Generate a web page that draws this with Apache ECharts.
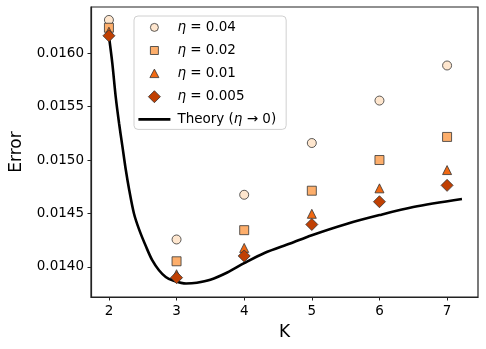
<!DOCTYPE html>
<html>
<head>
<meta charset="utf-8">
<script src="https://cdn.jsdelivr.net/npm/echarts@6/dist/echarts.min.js"></script>
<style>
  html, body { margin: 0; padding: 0; background: #fff; }
  #chart { width: 486px; height: 349px; }
</style>
</head>
<body>
<div id="chart"></div>
<script>
// K values (x axis)
const ks = [2, 3, 4, 5, 6, 7];
// measured error for each learning rate
const eta004 = [0.01631, 0.014257, 0.014675, 0.015159, 0.015556, 0.015884];
const eta002 = [0.016237, 0.014053, 0.014344, 0.014713, 0.0150, 0.015216];
const eta001 = [0.016200, 0.013932, 0.014178, 0.014497, 0.014735, 0.014906];
const eta0005 = [0.016162, 0.013900, 0.014103, 0.014397, 0.014610, 0.014763];
// theory curve (eta -> 0)
const theoryK = [2.0, 2.05, 2.1, 2.15, 2.2, 2.25, 2.3, 2.37, 2.45, 2.55, 2.64, 2.74, 2.84, 2.94, 3.14, 3.3, 3.5, 3.75, 4.0, 4.3, 4.68, 5.0, 5.5, 6.0, 6.5, 7.22];
const theoryErr = [0.01616, 0.015906, 0.015593, 0.015344, 0.015125, 0.014906, 0.014719, 0.0145, 0.014344, 0.014188, 0.014063, 0.013969, 0.013906, 0.013875, 0.013845, 0.013852, 0.01388, 0.013948, 0.014035, 0.01413, 0.014219, 0.014297, 0.0144, 0.014485, 0.01456, 0.014635];
// tick labels
const xTicks = [2, 3, 4, 5, 6, 7];
const yTicks = [0.0140, 0.0145, 0.0150, 0.0155, 0.0160];

const font = "DejaVu Sans";
const edge = "#333";

// legend icons: 32x14 box (the two leading moves fix the box), shape centred
const box = "M0 0 M32 14 ";
const icons = {
  circle: "path://" + box + "M20 7 A4 4 0 1 1 12 7 A4 4 0 1 1 20 7 Z",
  square: "path://" + box + "M12 3 L20 3 L20 11 L12 11 Z",
  triangle: "path://" + box + "M16 2.5 L20.5 11 L11.5 11 Z",
  diamond: "path://" + box + "M16 1 L22 7 L16 13 L10 7 Z",
  line: "path://" + box + "M0 5.7 L32 5.7 L32 8.3 L0 8.3 Z",
};

const chart = echarts.init(document.getElementById("chart"), null, { renderer: "canvas" });

const pairs = (ys) => ks.map((k, i) => [k, ys[i]]);

const scatter = (name, data, symbol, size, color) => ({
  name,
  type: "scatter",
  data: pairs(data),
  symbol,
  symbolSize: size,
  itemStyle: { color, borderColor: edge, borderWidth: 0.8, opacity: 1 },
  z: 3,
});

const etaLabel = (v) => "{i|η} = " + v;
const legendMark = { borderColor: edge, borderWidth: 0.8 };

const option = {
  animation: false,
  textStyle: { fontFamily: font },
  grid: {
    left: 90, right: 8, top: 7, bottom: 52,
    show: true, borderColor: "#222", borderWidth: 1.2, backgroundColor: "#fff",
  },
  legend: {
    orient: "vertical",
    left: 134, top: 16,
    itemWidth: 32, itemHeight: 14, itemGap: 8.3,
    padding: [4, 10, 3, 4],
    backgroundColor: "rgba(255,255,255,0.8)",
    borderColor: "#d0d0d0", borderWidth: 1, borderRadius: 4,
    data: [
      { name: "e1", icon: icons.circle, itemStyle: legendMark },
      { name: "e2", icon: icons.square, itemStyle: legendMark },
      { name: "e3", icon: icons.triangle, itemStyle: legendMark },
      { name: "e4", icon: icons.diamond, itemStyle: legendMark },
      { name: "theory", icon: icons.line, itemStyle: { color: "#000", borderWidth: 0 } },
    ],
    formatter: (name) => ({
      e1: etaLabel("0.04"),
      e2: etaLabel("0.02"),
      e3: etaLabel("0.01"),
      e4: etaLabel("0.005"),
      theory: "Theory ({i|η} → 0)",
    }[name]),
    textStyle: {
      fontFamily: font, fontSize: 13.5, color: "#000", padding: [0, 0, 0, 2],
      rich: { i: { fontFamily: font, fontStyle: "italic", fontSize: 13.5 } },
    },
  },
  xAxis: {
    type: "value",
    min: 1.735, max: 7.457,
    name: "K", nameLocation: "middle", nameGap: 27,
    nameTextStyle: { fontFamily: font, fontSize: 17, color: "#000" },
    axisLine: { show: true, lineStyle: { color: "#222", width: 1.2 } },
    axisTick: { show: true, inside: false, length: 3.5, customValues: xTicks, lineStyle: { color: "#222" } },
    axisLabel: { customValues: xTicks, margin: 7, fontSize: 13.5, color: "#000", fontFamily: font },
    splitLine: { show: false },
  },
  yAxis: {
    type: "value",
    min: 0.013719, max: 0.016431,
    name: "Error", nameLocation: "middle", nameGap: 66, nameRotate: 90,
    nameTextStyle: { fontFamily: font, fontSize: 17, color: "#000" },
    axisLine: { show: true, lineStyle: { color: "#222", width: 1.2 } },
    axisTick: { show: true, inside: false, length: 3.5, customValues: yTicks, lineStyle: { color: "#222" } },
    axisLabel: {
      customValues: yTicks, margin: 7, fontSize: 13.5, color: "#000", fontFamily: font,
      formatter: (v) => v.toFixed(4),
    },
    splitLine: { show: false },
  },
  series: [
    scatter("e1", eta004, "circle", 9, "#fee6ce"),
    scatter("e2", eta002, "rect", 9, "#fdae6b"),
    scatter("e3", eta001, "triangle", 9, "#f16913"),
    scatter("e4", eta0005, "diamond", 12, "#c04003"),
    {
      name: "theory",
      type: "line",
      data: theoryK.map((k, i) => [k, theoryErr[i]]),
      smooth: 0.3,
      showSymbol: false,
      symbol: "none",
      lineStyle: { color: "#000", width: 2.6 },
      itemStyle: { color: "#000" },
      z: 2,
    },
  ],
};

chart.setOption(option);
</script>
</body>
</html>
